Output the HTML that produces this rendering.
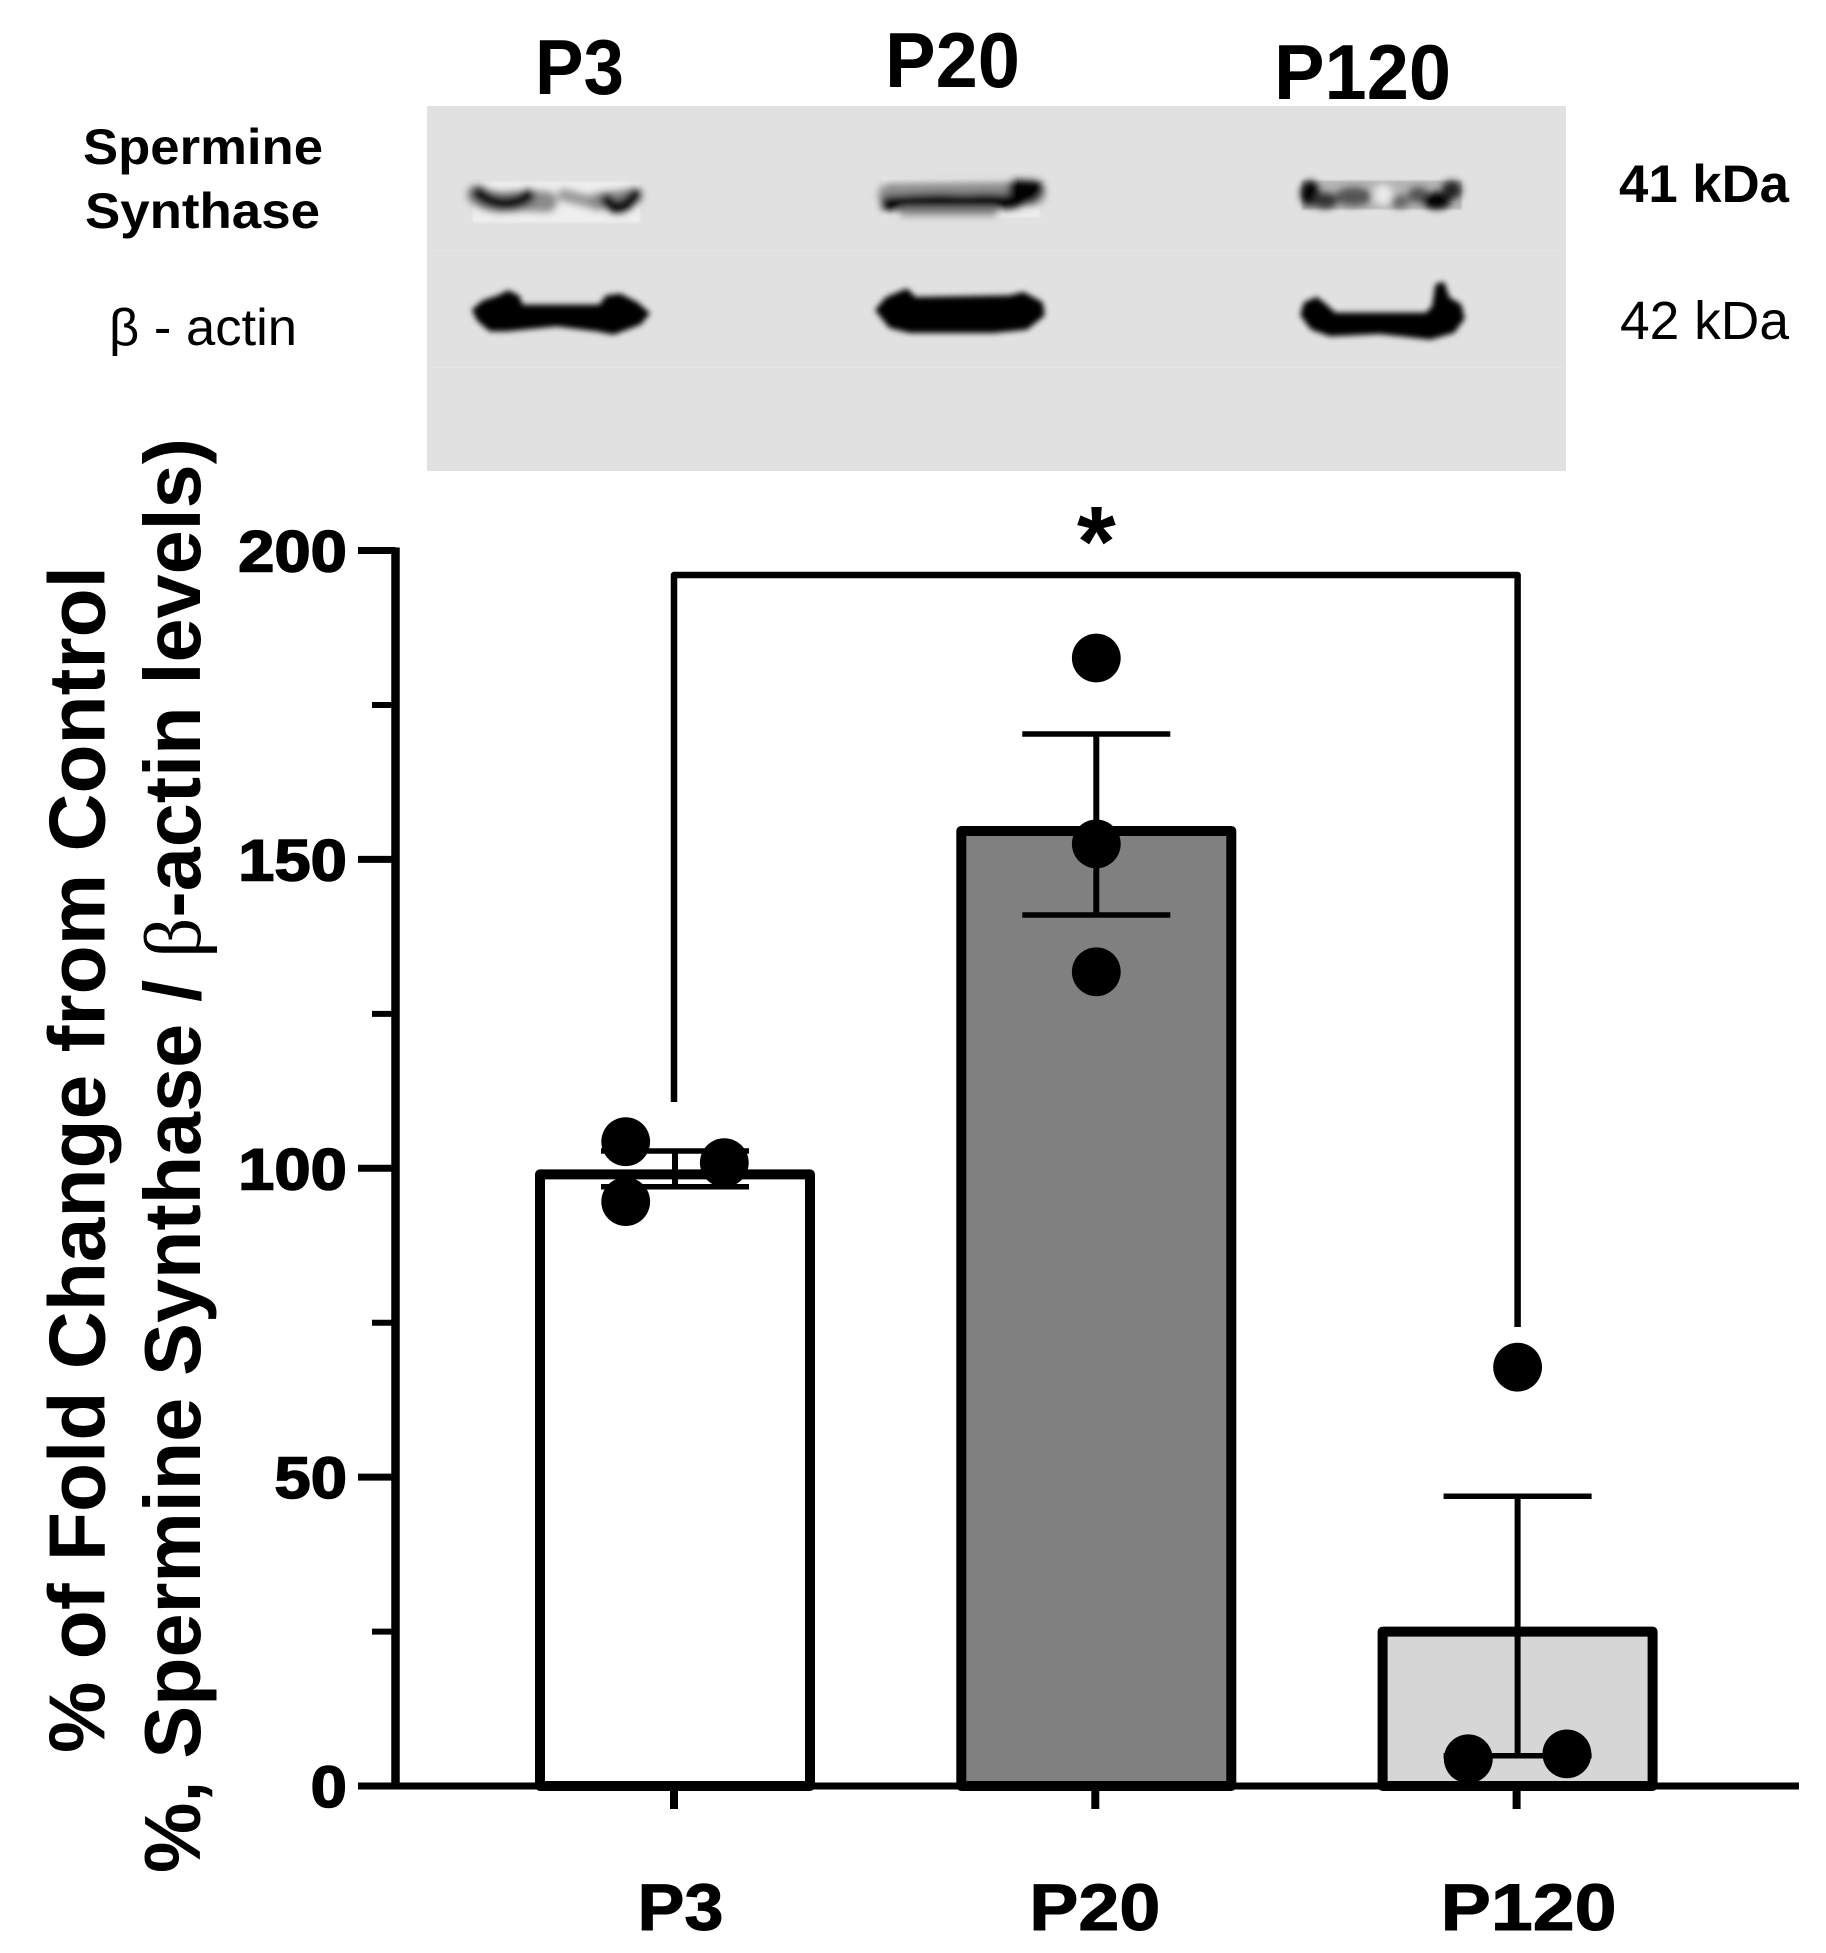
<!DOCTYPE html>
<html lang="en">
<head>
<meta charset="utf-8">
<title>Spermine Synthase Western Blot and Bar Chart</title>
<style>
html,body{margin:0;padding:0;background:#fff;width:1826px;height:1953px;overflow:hidden}
svg{display:block}
text{font-family:"Liberation Sans",sans-serif;fill:#000}
.b{font-weight:700}
</style>
</head>
<body>
<svg id="fig" xmlns="http://www.w3.org/2000/svg" width="1826" height="1953" viewBox="0 0 1826 1953">
<defs>
<filter id="blurA" filterUnits="userSpaceOnUse" x="0" y="0" width="800" height="700"><feGaussianBlur stdDeviation="9"/></filter>
<filter id="blurB" filterUnits="userSpaceOnUse" x="0" y="0" width="800" height="400"><feGaussianBlur stdDeviation="11"/></filter>
<filter id="blurC" filterUnits="userSpaceOnUse" x="0" y="0" width="800" height="400"><feGaussianBlur stdDeviation="3"/></filter>
</defs>
<rect width="1826" height="1953" fill="#fff"/>

<g>
<rect x="427" y="106" width="1139" height="365" fill="#e1e1e1"/>
<rect x="427" y="250" width="1139" height="1" fill="#e5e5e5"/>
<rect x="427" y="367" width="1139" height="1" fill="#e5e5e5"/>

<g transform="translate(440,160) scale(.33333)">
<rect x="98" y="65" width="502" height="122" fill="#eeeeee" filter="url(#blurC)"/>
<g filter="url(#blurB)" fill="none" stroke-linecap="round" stroke-linejoin="round">
<path d="M112 105Q150 130 200 125Q260 120 320 125" stroke="#8a8a8a" stroke-width="62"/>
<path d="M115 100Q150 130 200 130Q245 125 265 108" stroke="#000" stroke-width="40"/>
<path d="M370 105L450 125" stroke="#999" stroke-width="36"/>
<path d="M470 125L580 110" stroke="#8a8a8a" stroke-width="50"/>
<path d="M500 120Q535 165 585 105" stroke="#000" stroke-width="38"/>
</g>
</g>
<g transform="translate(440,160) scale(.33333)">
<path filter="url(#blurA)" fill="#000" stroke="#000" stroke-width="8" stroke-linejoin="round" d="M100 450L130 425L175 410L205 395L235 410L245 438L480 438L500 410L540 405L590 430L625 460L600 490L520 520L470 510L350 495L200 510L150 510L115 480Z"/>
</g>

<g transform="translate(860,160) scale(.33333)">
<rect x="68" y="52" width="472" height="120" fill="#ececec" filter="url(#blurC)"/>
<g filter="url(#blurB)" fill="none" stroke-linecap="round" stroke-linejoin="round">
<path d="M90 105L520 100" stroke="#8f8f8f" stroke-width="72"/>
<path d="M85 130L170 125L240 122L310 125L380 122L450 125L515 105" stroke="#000" stroke-width="44"/>
<path d="M470 85L525 88" stroke="#000" stroke-width="52"/>
<path d="M130 155L400 155" stroke="#888" stroke-width="26"/>
</g>
</g>
<g transform="translate(860,160) scale(.33333)">
<path filter="url(#blurA)" fill="#000" stroke="#000" stroke-width="8" stroke-linejoin="round" d="M50 450L80 415L140 390L165 415L450 410L490 400L545 430L550 465L500 505L400 515L150 515L90 500Z"/>
</g>

<g transform="translate(1280,160) scale(.33333)">
<rect x="65" y="62" width="480" height="86" fill="#b4b4b4" filter="url(#blurC)"/>
<g filter="url(#blurB)" stroke="none">
<ellipse cx="90" cy="100" rx="28" ry="38" fill="#000"/>
<ellipse cx="135" cy="122" rx="38" ry="24" fill="#333"/>
<ellipse cx="220" cy="110" rx="55" ry="28" fill="#555"/>
<ellipse cx="310" cy="105" rx="30" ry="32" fill="#eaeaea"/>
<ellipse cx="360" cy="125" rx="28" ry="20" fill="#666"/>
<ellipse cx="415" cy="105" rx="32" ry="24" fill="#555"/>
<ellipse cx="470" cy="122" rx="42" ry="26" fill="#000"/>
<ellipse cx="515" cy="90" rx="30" ry="28" fill="#222"/>
</g>
</g>
<g transform="translate(1280,160) scale(.33333)">
<path filter="url(#blurA)" fill="#000" stroke="#000" stroke-width="8" stroke-linejoin="round" d="M65 465L75 430L110 415L135 435L165 462L440 462L460 440L470 375L490 370L505 415L540 435L550 475L520 515L450 535L300 518L150 525L95 505Z"/>
</g>

<text class="b" x="535" y="94" font-size="78" textLength="89" lengthAdjust="spacingAndGlyphs">P3</text>
<text class="b" x="885" y="87" font-size="78" textLength="135" lengthAdjust="spacingAndGlyphs">P20</text>
<text class="b" x="1274" y="99" font-size="78" textLength="177" lengthAdjust="spacingAndGlyphs">P120</text>
<text class="b" x="83" y="164" font-size="50" textLength="240" lengthAdjust="spacingAndGlyphs">Spermine</text>
<text class="b" x="85" y="228" font-size="50" textLength="235" lengthAdjust="spacingAndGlyphs">Synthase</text>
<text x="109" y="345" font-size="52" textLength="188" lengthAdjust="spacingAndGlyphs">β - actin</text>
<text class="b" x="1619" y="202" font-size="53" textLength="170" lengthAdjust="spacingAndGlyphs">41 kDa</text>
<text x="1620" y="339" font-size="54" textLength="169" lengthAdjust="spacingAndGlyphs">42 kDa</text>
</g>

<text class="b" transform="translate(104.5,1753) rotate(-90)" font-size="80" textLength="1187" lengthAdjust="spacingAndGlyphs">% of Fold Change from Control</text>
<text class="b" transform="translate(200,1873) rotate(-90)" font-size="80" textLength="1435" lengthAdjust="spacingAndGlyphs">%, Spermine Synthase / <tspan font-family="Liberation Serif" font-weight="400">β</tspan>-actin levels)</text>

<g id="chart"></g>
</svg>

<script>
const categories = ['P3', 'P20', 'P120'];
const meanValues = [99, 154.6, 25];
const errorUpper = [102.8, 170.3, 46.9];
const errorLower = [97, 141, 4.9];
const pointsP3 = [104.3, 100.9, 94.6];
const pointsP20 = [182.6, 152.5, 131.8];
const pointsP120 = [67.8, 4.4, 5.2];
const majorTickLabels = [0, 50, 100, 150, 200];
const minorTickValues = [25, 75, 125, 175];
const barColors = ['#ffffff', '#808080', '#d6d6d6'];

const NS = 'http://www.w3.org/2000/svg';
const chart = document.getElementById('chart');
const yPx = v => 1786 - v * 6.1775;
const xPx = i => 675 + i * 421.3;

function mk(tag, attrs, text) {
  const el = document.createElementNS(NS, tag);
  for (const k in attrs) el.setAttribute(k, attrs[k]);
  if (text !== undefined) el.textContent = text;
  chart.appendChild(el);
  return el;
}
function seg(x1, y1, x2, y2, w) {
  return mk('line', { x1: x1, y1: y1, x2: x2, y2: y2, stroke: '#000', 'stroke-width': w });
}

categories.forEach((c, i) => {
  const cx = xPx(i), hw = 135, top = yPx(meanValues[i]), base = yPx(0);
  const bar = mk('path', {
    d: 'M' + (cx - hw) + ' ' + base + 'L' + (cx - hw) + ' ' + top + 'L' + (cx + hw) + ' ' + top + 'L' + (cx + hw) + ' ' + base + 'Z',
    fill: barColors[i], stroke: '#000', 'stroke-width': 10, 'stroke-linejoin': 'round'
  });
  
  
});

const xAxis = seg(358, yPx(0), 1799, yPx(0), 7);


const yAxis = seg(395.5, yPx(200) - 3, 395.5, yPx(0) + 3, 8.5);



majorTickLabels.forEach(v => {
  const t = seg(358, yPx(v), 395.5, yPx(v), 7);
  
  
  const s = String(v);
  const w = s.length * 36.3;
  const lab = mk('text', {
    x: 347 - w, y: yPx(v) + 21, 'font-size': 58, 'font-weight': 700,
    textLength: w, lengthAdjust: 'spacingAndGlyphs', stroke: '#000', 'stroke-width': 1.5
  }, s);
  
  
});
minorTickValues.forEach(v => {
  const t = seg(372, yPx(v), 395.5, yPx(v), 6);
  
  
});

const labelWidths = [86, 131, 176];
const labelShift = [5.5, -1.5, 11];
categories.forEach((c, i) => {
  const t = seg(xPx(i) - 1, yPx(0), xPx(i) - 1, 1809, 8);
  
  
  const lab = mk('text', {
    x: xPx(i) + labelShift[i] - labelWidths[i] / 2, y: 1930, 'font-size': 66, 'font-weight': 700,
    textLength: labelWidths[i], lengthAdjust: 'spacingAndGlyphs', stroke: '#000', 'stroke-width': 1
  }, c);
  
  
});

categories.forEach((c, i) => {
  const cx = xPx(i), hi = yPx(errorUpper[i]), lo = yPx(errorLower[i]);
  const stem = seg(cx, hi, cx, lo, 6);
  
  
  const capA = seg(cx - 74, hi, cx + 74, hi, 5.5);
  
  
  const capB = seg(cx - 74, lo, cx + 74, lo, 5.5);
  
  
});

function drawPoints(values, i, sides) {
  values.forEach((v, k) => {
    const p = mk('circle', { cx: xPx(i) + sides[k] * 49.3, cy: yPx(v), r: 24.4, fill: '#000' });
    
    
  });
}
drawPoints(pointsP3, 0, [-1, 1, -1]);
drawPoints(pointsP20, 1, [0, 0, 0]);
drawPoints(pointsP120, 2, [0, -1, 1]);

const bracket = mk('path', {
  d: 'M' + (xPx(0) - 1) + ' 1102V575H' + xPx(2) + 'V1327',
  fill: 'none', stroke: '#000', 'stroke-width': 6.5, 'stroke-linejoin': 'round'
});


const star = mk('text', {
  x: xPx(1), y: 576, 'font-size': 100, 'font-weight': 700, 'text-anchor': 'middle'
}, '*');


</script>
</body>
</html>
